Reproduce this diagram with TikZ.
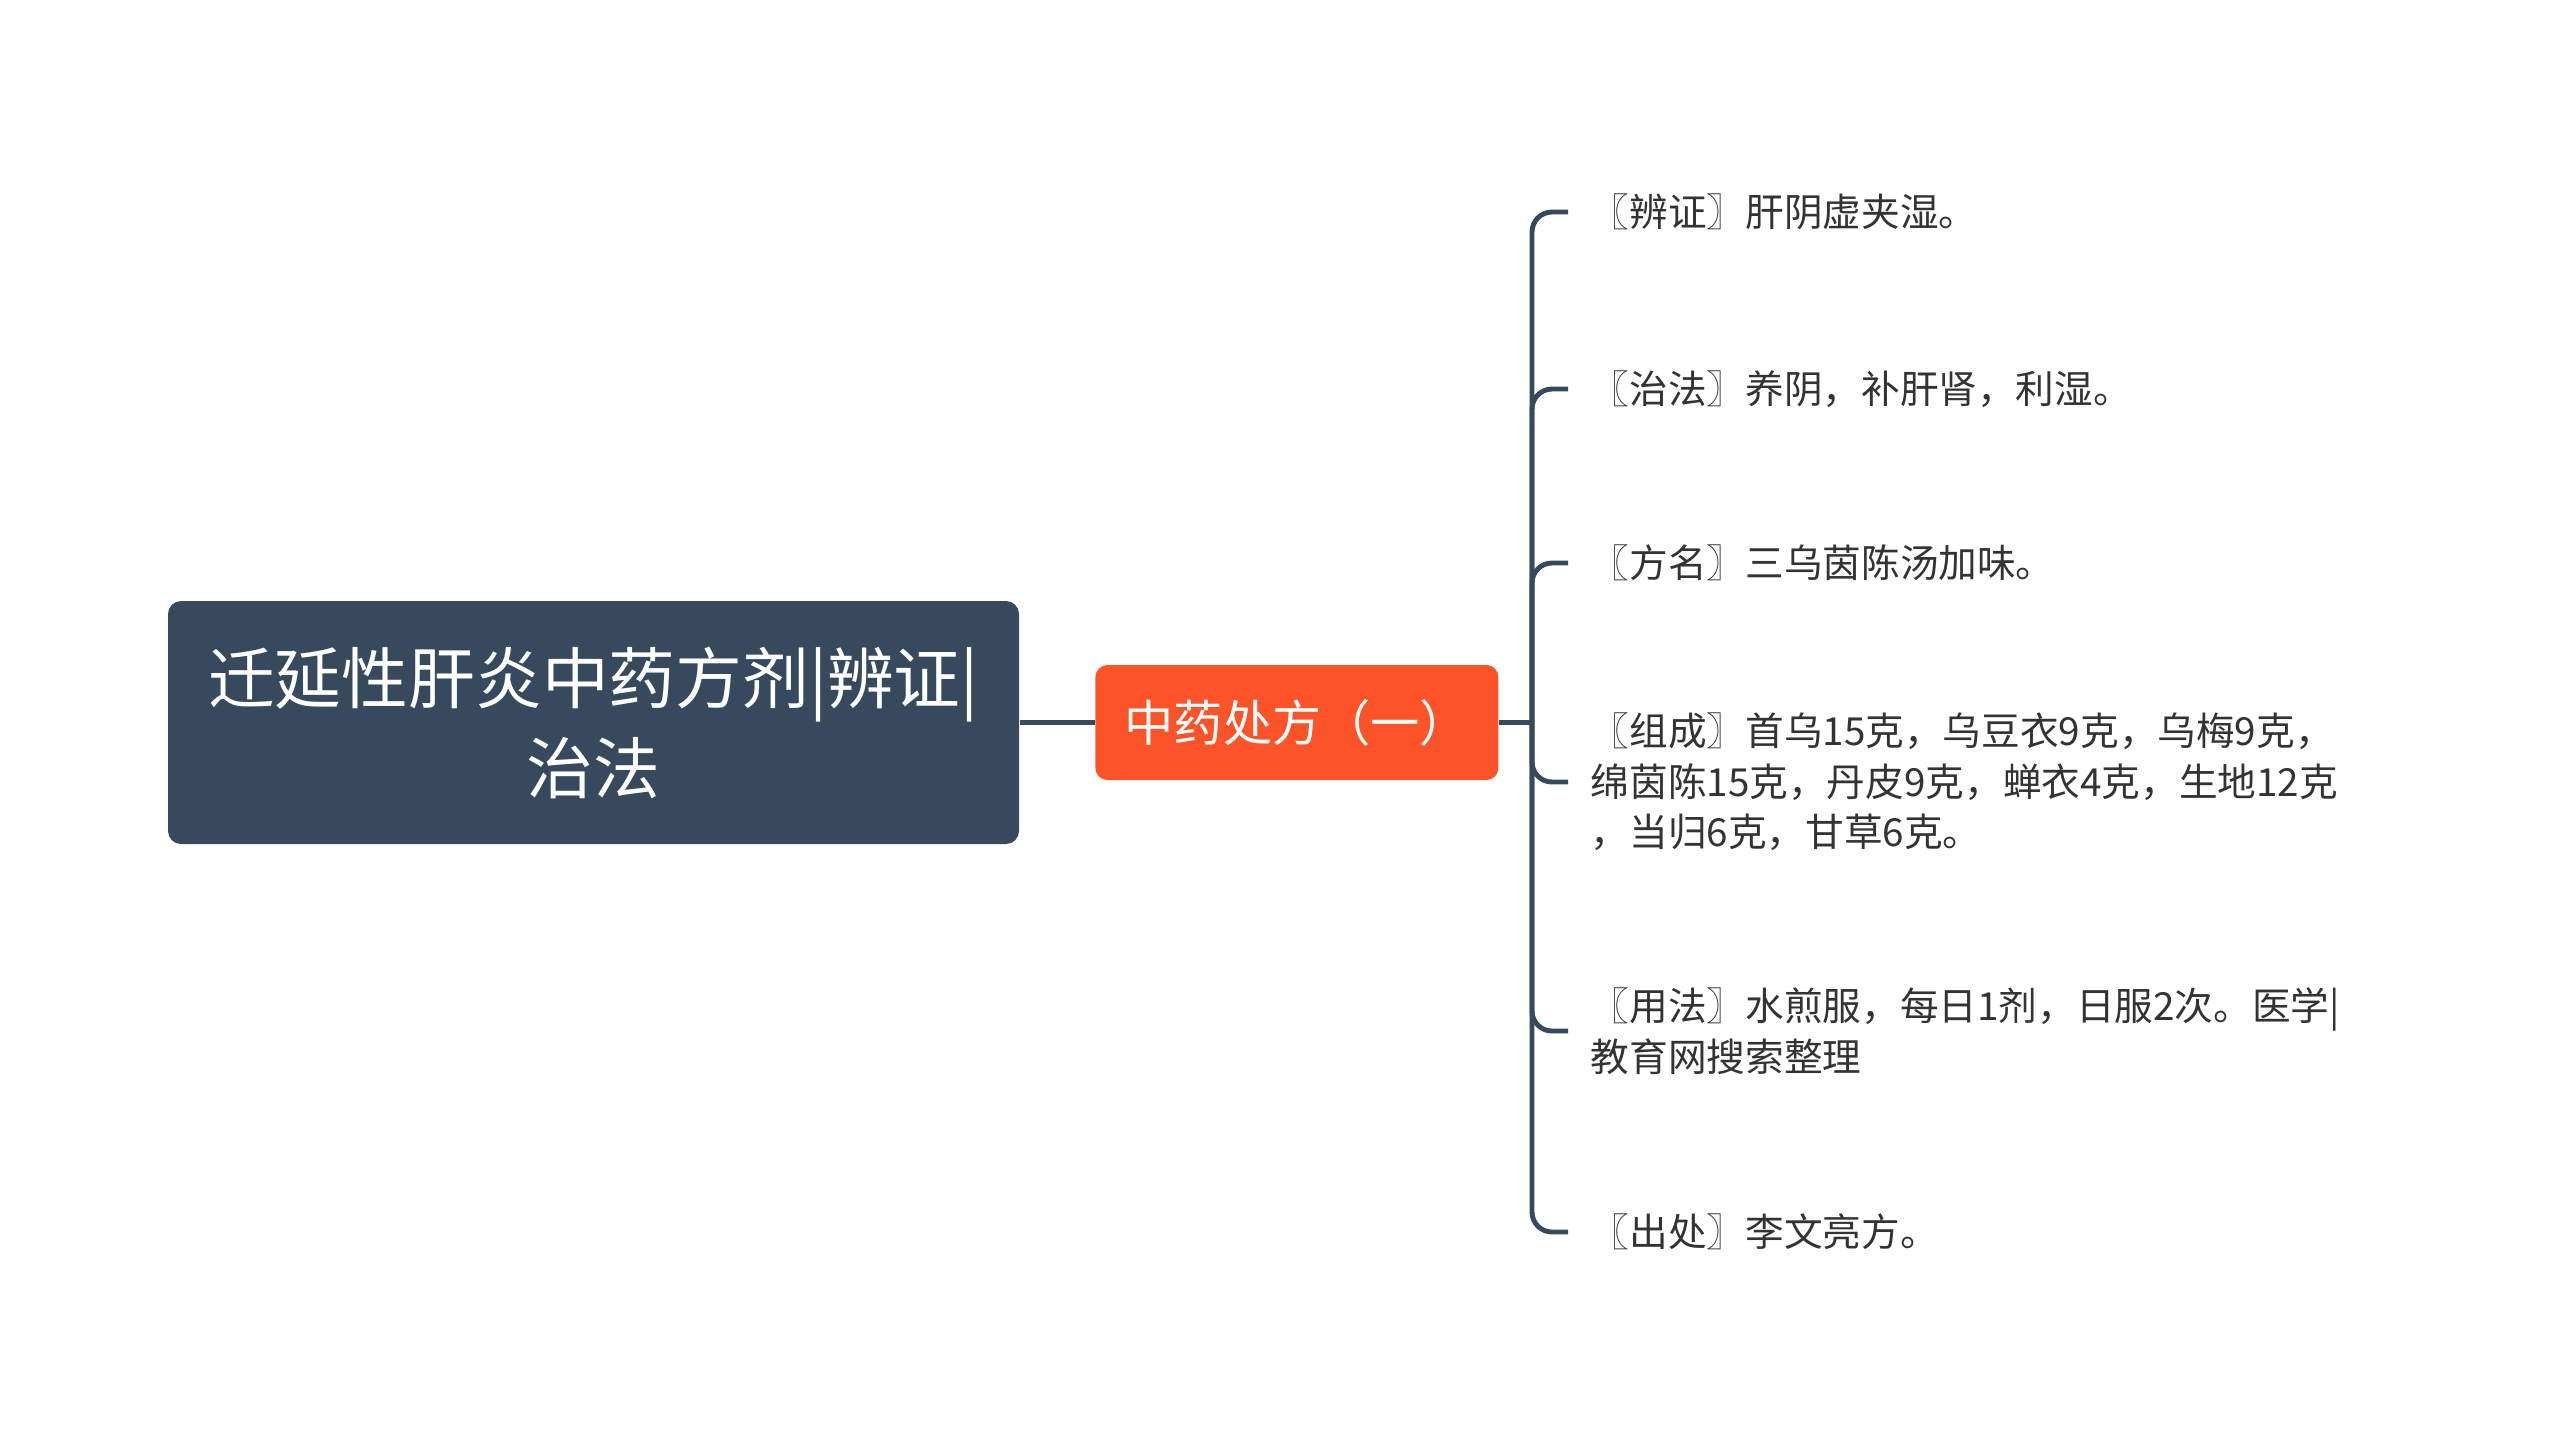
\documentclass[tikz,border=0pt]{standalone}
\usepackage{fontspec}
\setmainfont{Noto Sans CJK SC}
\usetikzlibrary{positioning}
\definecolor{rootblue}{RGB}{55,73,92}
\definecolor{suborange}{RGB}{252,84,40}
\definecolor{leafgray}{RGB}{51,51,51}

\begin{document}
\begin{tikzpicture}
		\tikzstyle{root}=[fill=rootblue,text=white,rounded corners=0.13cm,minimum width=8.51cm,minimum height=2.43cm,align=center,font=\fontsize{19}{25.6}\selectfont]
		\tikzstyle{sub}=[fill=suborange,text=white,rounded corners=0.12cm,minimum width=4.03cm,minimum height=1.15cm,font=\fontsize{14}{16}\selectfont]
		\tikzstyle{leaf}=[anchor=west,inner xsep=0.22cm,inner ysep=0pt,align=left,text=leafgray,font=\fontsize{11}{14.4}\selectfont]
		\tikzstyle{link}=[draw=rootblue,line width=1.4pt]
		\tikzstyle{elbow}=[rounded corners=0.2cm,to path={|- (\tikztotarget)}]
		
		\useasboundingbox (0,0) rectangle (25.6,-14.45);
		
		\node[root] (top) at (5.935,-7.225) {迁延性肝炎中药方剂|辨证|\\治法};
		\node[sub,right=0.75cm of top] (rx1) {中药处方（一）};
		\coordinate (hub) at (15.32,-7.225);
		
		\node[leaf] (bz) at (15.68,-2.12) {〖辨证〗肝阴虚夹湿。};
		\node[leaf] (zf) at (15.68,-3.89) {〖治法〗养阴，补肝肾，利湿。};
		\node[leaf] (fm) at (15.68,-5.63) {〖方名〗三乌茵陈汤加味。};
		\node[leaf] (zc) at (15.68,-7.82) {〖组成〗首乌15克，乌豆衣9克，乌梅9克，\\绵茵陈15克，丹皮9克，蝉衣4克，生地12克\\，当归6克，甘草6克。};
		\node[leaf] (yf) at (15.68,-10.31) {〖用法〗水煎服，每日1剂，日服2次。医学|\\教育网搜索整理};
		\node[leaf] (cc) at (15.68,-12.32) {〖出处〗李文亮方。};
		
		\path[link]
		(top) edge (rx1)
		(rx1) edge (hub)
		(hub)
		edge [elbow] (bz)
		edge [elbow] (zf)
		edge [elbow] (fm)
		edge [elbow] (zc)
		edge [elbow] (yf)
		edge [elbow] (cc);
	
	\end{tikzpicture}
\end{document}
